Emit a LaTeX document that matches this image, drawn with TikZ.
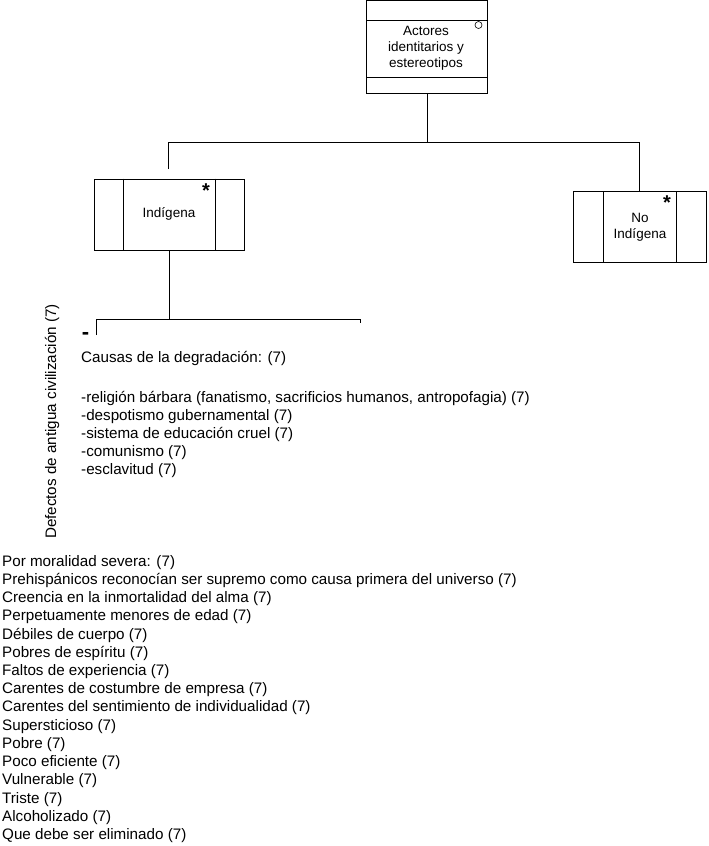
\documentclass[tikz,border=0pt]{standalone}
\usepackage{fontspec}
\setmainfont{Liberation Sans}
\begin{document}
\begin{tikzpicture}[x=1pt,y=-1pt,
  ln/.style={line width=0.8pt, draw=black},
  umlbox/.style={draw=black, line width=0.8pt, inner sep=0, rectangle},
  boxtxt/.style={font=\fontsize{13.5}{16}\selectfont, align=center, inner sep=0},
  txt/.style={font=\fontsize{15.2}{18}\selectfont, anchor=base west, inner sep=0},
  star/.style={font=\fontsize{20}{20}\selectfont\bfseries, inner sep=0}]
\useasboundingbox (0,0) rectangle (709,846);

% top box
\node[umlbox, minimum width=121pt, minimum height=92.5pt] (top) at (427,47) {};
\draw[ln] ([yshift=-20.3pt]top.north west) -- ([yshift=-20.3pt]top.north east);
\draw[ln] ([yshift=16.2pt]top.south west) -- ([yshift=16.2pt]top.south east);
\node[boxtxt] (toptxt) at (426,48) {Actores\\identitarios y\\estereotipos};
\node[circle, draw=black, line width=0.6pt, minimum size=7pt, inner sep=0] (circ) at (478.5,25) {};

% Indigena box
\node[umlbox, minimum width=150.5pt, minimum height=71pt] (ind) at (169.3,214.6) {};
\draw[ln] ([xshift=30pt]ind.north west) -- ([xshift=30pt]ind.south west);
\draw[ln] ([xshift=-29.5pt]ind.north east) -- ([xshift=-29.5pt]ind.south east);
\node[boxtxt] (indtxt) at (169,214) {Indígena};
\node[star] (indstar) at (206,191) {*};

% No Indigena box
\node[umlbox, minimum width=133pt, minimum height=71pt] (noind) at (639.5,227.2) {};
\draw[ln] ([xshift=30.5pt]noind.north west) -- ([xshift=30.5pt]noind.south west);
\draw[ln] ([xshift=-30.3pt]noind.north east) -- ([xshift=-30.3pt]noind.south east);
\node[boxtxt, font=\fontsize{13.5}{15.5}\selectfont] (noindtxt) at (640,227.5) {No\\Indígena};
\node[star] (noindstar) at (667,203) {*};

% connectors top
\coordinate (hub) at (427,142.5);
\coordinate (indtop) at (168.5,169);
\draw[ln] (top.south) -- (hub);
\draw[ln] (indtop) |- (hub) -| (noind.north);

% connectors below Indigena
\coordinate (h2) at (169.3,319.5);
\coordinate (hl) at (96.5,335);
\coordinate (hr) at (360,322.5);
\draw[ln] (ind.south) -- (h2);
\draw[ln] (hl) |- (h2) -| (hr);
\node[font=\fontsize{22}{22}\selectfont\bfseries, inner sep=0] (dash) at (85.5,336) {-};

% vertical label
\node[rotate=90, font=\fontsize{15.2}{18}\selectfont, inner sep=0] (vt) at (52,421.5) {Defectos de antigua civilización (7)};

% causes
\node[txt] (causas) at (81,362.5) {Causas de la degradación: (7)};
\foreach \t [count=\i from 0] in {
  {-religión bárbara (fanatismo, sacrificios humanos, antropofagia) (7)},
  {-despotismo gubernamental (7)},
  {-sistema de educación cruel (7)},
  {-comunismo (7)},
  {-esclavitud (7)}}
  \node[txt] (c\i) at (81,402.2+18.15*\i) {\t};

% bottom list
\foreach \t [count=\i from 0] in {
  {Por moralidad severa: (7)},
  {Prehispánicos reconocían ser supremo como causa primera del universo (7)},
  {Creencia en la inmortalidad del alma (7)},
  {Perpetuamente menores de edad (7)},
  {Débiles de cuerpo (7)},
  {Pobres de espíritu (7)},
  {Faltos de experiencia (7)},
  {Carentes de costumbre de empresa (7)},
  {Carentes del sentimiento de individualidad (7)},
  {Supersticioso (7)},
  {Pobre (7)},
  {Poco eficiente (7)},
  {Vulnerable (7)},
  {Triste (7)},
  {Alcoholizado (7)},
  {Que debe ser eliminado (7)}}
  \node[txt] (b\i) at (2,566.2+18.22*\i) {\t};
\end{tikzpicture}
\end{document}
